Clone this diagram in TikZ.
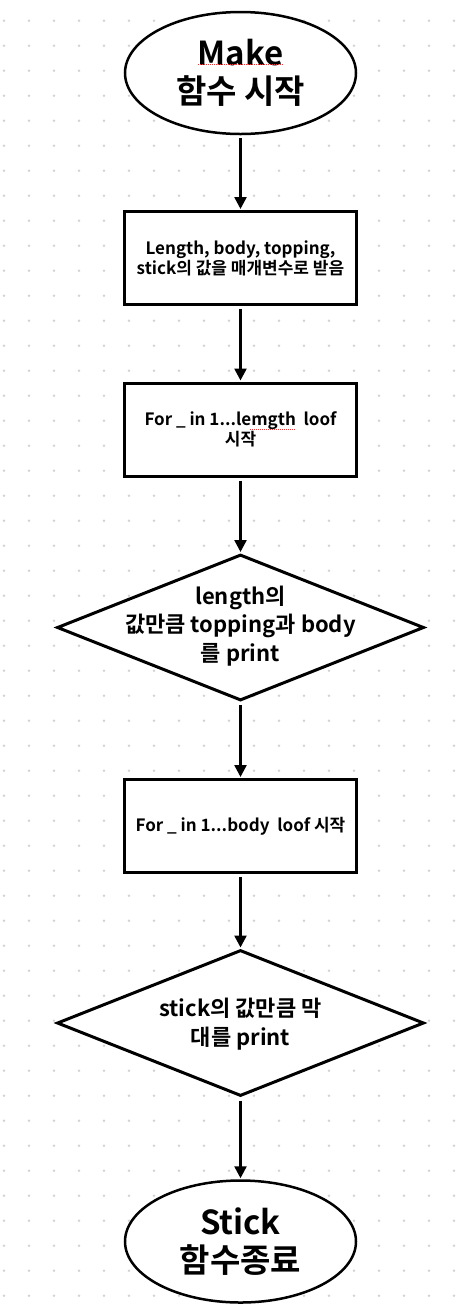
\documentclass[tikz,border=0pt]{standalone}
\usepackage{fontspec}
\setmainfont{Noto Sans CJK KR}[BoldFont={Noto Sans CJK KR Bold}]
\usetikzlibrary{shapes.geometric,arrows.meta}
\definecolor{dotgray}{HTML}{D2D2D2}
\definecolor{spellred}{HTML}{E03A3A}
\tikzset{
  ell/.style={ellipse,draw=black,line width=2.5pt,fill=white,inner sep=0pt,
    minimum width=231pt,minimum height=122pt,align=center,
    font=\fontsize{33}{38}\selectfont\bfseries},
  stepbox/.style={rectangle,draw=black,line width=3pt,fill=white,inner sep=0pt,
    minimum width=232pt,minimum height=93pt,align=center,
    font=\fontsize{17}{20}\selectfont\bfseries},
  decis/.style={diamond,draw=black,line width=3pt,fill=white,inner sep=0pt,
    minimum width=367pt,minimum height=146pt},
  decistext/.style={align=center,inner sep=0pt,
    font=\fontsize{22}{28.5}\selectfont\bfseries},
  flow/.style={line width=2.5pt,-{Triangle[width=12pt,length=12pt]},
    shorten <=3pt,shorten >=1pt},
  spell/.style={spellred,line width=0.8pt,dash pattern=on 1pt off 1pt}
}
\begin{document}
\begin{tikzpicture}[x=1pt,y=-1pt]
\fill[white] (0,0) rectangle (476,1310);
\useasboundingbox (0,0) rectangle (476,1310);
\foreach \i in {0,...,18}{
  \foreach \j in {0,...,51}{
    \fill[dotgray] ({4+25*\i},{20.7+25*\j}) circle (1.4pt);
  }
}
\node[ell] (start) at (240.5,73) {Make\\함수 시작};
\node[stepbox] (b1) at (240.5,258) {Length, body, topping,\\stick의 값을 매개변수로 받음};
\node[stepbox] (b2) at (240.5,429.5) {For \_ in 1...lemgth\ \ loof\\시작};
\node[decis] (d1) at (240.5,627.5) {};
\node[decistext] (d1t) at (240.5,626) {length의\\값만큼 topping과 body\\를 print};
\node[stepbox] (b3) at (240.5,826) {For \_ in 1...body\ \ loof 시작};
\node[decis] (d2) at (240.5,1023) {};
\node[decistext] (d2t) at (240.5,1024) {stick의 값만큼 막\\대를 print};
\node[ell] (stop) at (240.5,1241.5) {Stick\\함수종료};
\draw[flow] (start.south) -- (b1.north);
\draw[flow] (b1.south) -- (b2.north);
\draw[flow] (b2.south) -- (d1.north);
\draw[flow] (d1.south) -- (b3.north);
\draw[flow] (b3.south) -- (d2.north);
\draw[flow] (d2.south) -- (stop.north);
\draw[spell] (198,64) -- (283,64);
\draw[spell] (250,429) -- (295,429);
\end{tikzpicture}
\end{document}
